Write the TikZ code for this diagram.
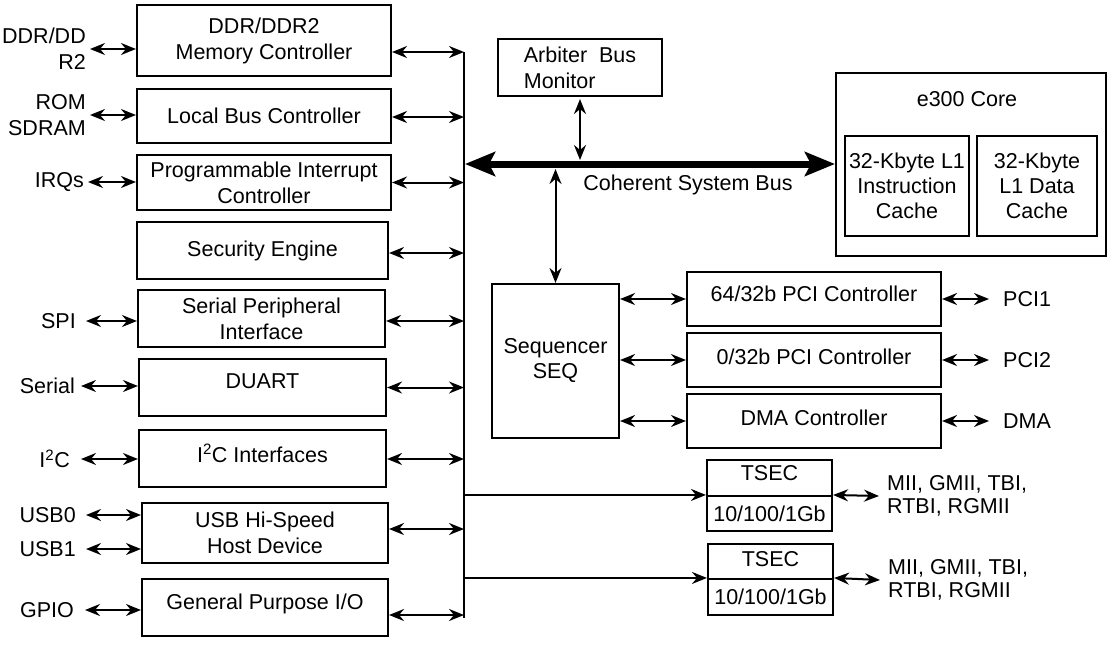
\documentclass[tikz,border=0pt]{standalone}
\usepackage{fontspec}
\setmainfont{Liberation Sans}
\usetikzlibrary{arrows.meta,calc}

\begin{document}
\begin{tikzpicture}[x=1pt,y=-1pt,
  font=\fontsize{21.5}{26}\selectfont,
  blk/.style={draw,line width=2.1pt,align=center,inner sep=2pt},
  io/.style={inner sep=0pt,inner xsep=4pt,align=right},
  >={Stealth[length=15pt,width=12pt,inset=5pt]},
  link/.style={line width=2pt,<->},
  csb/.style={line width=7pt,{Stealth[length=30pt,width=24pt,inset=6pt]}-{Stealth[length=30pt,width=24pt,inset=6pt]}}]
\useasboundingbox (0,0) rectangle (1115,645);

% peripheral column
\node[blk,minimum width=254,minimum height=71] (ddr) at (264,40.5) {DDR/DDR2\\Memory Controller};
\node[blk,minimum width=254,minimum height=54] (lbc) at (264,116) {Local Bus Controller};
\node[blk,minimum width=254,minimum height=55] (pic) at (264,182.5) {Programmable Interrupt\\Controller};
\node[blk,minimum width=251,minimum height=57] (sec) at (262.5,250.5) {Security Engine};
\node[blk,minimum width=247,minimum height=57] (spi) at (261.5,318.5) {Serial Peripheral\\Interface};
\node[blk,minimum width=247,minimum height=57,text depth=12pt] (duart) at (262.5,387.5) {DUART};
\node[blk,minimum width=247,minimum height=57,text depth=10pt] (i2c) at (262.5,458.5) {I\textsuperscript{2}C Interfaces};
\node[blk,minimum width=246,minimum height=60] (usb) at (265,533) {USB Hi-Speed\\Host Device};
\node[blk,minimum width=246,minimum height=57,text depth=12.5pt] (gpio) at (265,607.5) {General Purpose I/O};

% external pins
\node[io,anchor=east] (ddrio) at (90,49) {DDR/DD\\R2};
\node[io,anchor=east] (lbcio) at (90,115) {ROM\\SDRAM};
\node[io,anchor=east] (irq) at (88,182) {IRQs};
\node[io,anchor=east,inner xsep=10pt] (spiio) at (86,321) {SPI};
\node[io,anchor=east,inner xsep=6pt] (serio) at (81,386) {Serial};
\node[io,anchor=east,inner xsep=11pt] (i2cio) at (81,459) {I\textsuperscript{2}C};
\node[io,anchor=east,inner xsep=10pt] (usb0io) at (86,515) {USB0};
\node[io,anchor=east,inner xsep=10pt] (usb1io) at (86,549) {USB1};
\node[io,anchor=east,inner xsep=11pt] (gpioio) at (85,610) {GPIO};
\draw[link] (ddrio.east) -- (ddrio.east -| ddr.west);
\draw[link] (lbcio.east) -- (lbcio.east -| lbc.west);
\draw[link] (irq.east) -- (irq.east -| pic.west);
\draw[link] (spiio.east) -- (spiio.east -| spi.west);
\draw[link] (serio.east) -- (serio.east -| duart.west);
\draw[link] (i2cio.east) -- (i2cio.east -| i2c.west);
\draw[link] (usb0io.east) -- (usb0io.east -| usb.west);
\draw[link] (usb1io.east) -- (usb1io.east -| usb.west);
\draw[link] (gpioio.east) -- (gpioio.east -| gpio.west);

% peripheral bus
\coordinate (bust) at (464,52);
\coordinate (busb) at (464,618);
\draw[line width=2pt] (bust) -- (busb);
\foreach \n/\d in {ddr/11.5,lbc/1,pic/0,sec/2.5,spi/2.5,duart/0,i2c/0.5,usb/-4,gpio/7.5}
  \draw[link] ($(\n.east)+(0,\d)$) -- ($(\n.east -| bust)+(0,\d)$);

% coherent system bus
\node[blk,minimum width=164,minimum height=57,align=left] (arb) at (580,67.5) {Arbiter\ \ Bus\\Monitor};
\node[blk,minimum width=270,minimum height=183] (core) at (971,164.5) {};
\node (coret) at (967,99) {e300 Core};
\node[blk,minimum width=124,minimum height=100,inner xsep=0pt,font=\fontsize{21.5}{25}\selectfont] (icache) at (907,186) {32-Kbyte L1\\Instruction\\Cache};
\node[blk,minimum width=120,minimum height=100,font=\fontsize{21.5}{25}\selectfont] (dcache) at (1037,186) {32-Kbyte\\L1 Data\\Cache};
\coordinate (csbl) at (465,164);
\draw[csb] (csbl) -- (csbl -| core.west);
\node (csblbl) at (688,185) {Coherent System Bus};
\draw[link] ([yshift=-2pt]arb.south) -- ($(arb.south |- csbl)+(0,-4)$);

% sequencer and pci
\node[blk,minimum width=127,minimum height=154,font=\fontsize{21.5}{25}\selectfont] (seq) at (555.5,361) {Sequencer\\SEQ};
\draw[link] ($(seq.north |- csbl)+(0,5)$) -- (seq.north);
\node[blk,minimum width=254,minimum height=54,text depth=10.5pt] (pci1) at (814,299) {64/32b PCI Controller};
\node[blk,minimum width=254,minimum height=54,text depth=7pt] (pci2) at (814,360) {0/32b PCI Controller};
\node[blk,minimum width=254,minimum height=54,text depth=7pt] (dma) at (814,421) {DMA Controller};
\draw[link] (pci1.west -| seq.east) -- (pci1.west);
\draw[link] (pci2.west -| seq.east) -- (pci2.west);
\draw[link] (dma.west -| seq.east) -- (dma.west);
\node[io,anchor=west,inner xsep=14pt] (pci1io) at (989,299) {PCI1};
\node[io,anchor=west,inner xsep=14pt] (pci2io) at (989,360) {PCI2};
\node[io,anchor=west,inner xsep=14pt] (dmaio) at (989,421) {DMA};
\draw[link] (pci1.east) -- (pci1io.west);
\draw[link] (pci2.east) -- (pci2io.west);
\draw[link] (dma.east) -- (dmaio.west);

% ethernet
\node[blk,minimum width=125,minimum height=36,text depth=10pt] (tsec1) at (769.5,478) {TSEC};
\node[blk,minimum width=125,minimum height=35] (tsec1b) at (769.5,513.5) {10/100/1Gb};
\node[blk,minimum width=125,minimum height=35,text depth=6pt] (tsec2) at (770.5,561.5) {TSEC};
\node[blk,minimum width=125,minimum height=36] (tsec2b) at (770.5,597) {10/100/1Gb};
\draw[line width=2pt,->] (bust |- tsec1b.north west) -- (tsec1b.north west);
\draw[line width=2pt,->] (bust |- tsec2b.north west) -- (tsec2b.north west);
\node[io,anchor=west,inner xsep=8pt,align=left,font=\fontsize{21.5}{22.5}\selectfont] (mii1) at (879,496) {MII, GMII, TBI,\\RTBI, RGMII};
\node[io,anchor=west,inner xsep=8pt,align=left,font=\fontsize{21.5}{22.5}\selectfont] (mii2) at (880,580) {MII, GMII, TBI,\\RTBI, RGMII};
\draw[link] (tsec1b.north east) -- (mii1.west);
\draw[link] (tsec2b.north east) -- (mii2.west);
\end{tikzpicture}
\end{document}
